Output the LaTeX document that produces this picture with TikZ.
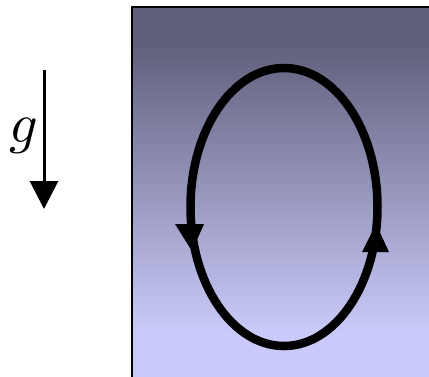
\documentclass[tikz,border=0pt]{standalone}
\usetikzlibrary{arrows.meta}
\definecolor{topc}{RGB}{96,96,124}
\definecolor{botc}{RGB}{202,202,250}
\pgfdeclareverticalshading{panelshade}{100bp}{color(0bp)=(botc); color(31bp)=(botc); color(70bp)=(topc); color(100bp)=(topc)}
\tikzset{
  loopline/.style={line width=8.5pt, draw=black},
  headfill/.style={fill=black},
  gravity/.style={line width=3pt, -{Triangle[width=28pt,length=28pt]}},
}
\begin{document}
\begin{tikzpicture}[x=1pt,y=-1pt]
\useasboundingbox (0,0) rectangle (429,376);
\clip (0,0) rectangle (429,376);
% panel
\shade[shading=panelshade] (132,7) rectangle (431,376);
\draw[line width=2pt] (132,390) -- (132,7) -- (440,7);
% loop
\draw[loopline] (284,207) ellipse [x radius=93.5, y radius=139];
% arrowheads
\fill[headfill] (175,224) -- (204,224) -- (192,251) -- cycle;
\fill[headfill] (362,252) -- (389,252) -- (376,224) -- cycle;
% gravity arrow
\coordinate (gtop) at (44,70);
\coordinate (gbot) at (44,209);
\draw[gravity] (gtop) -- (gbot);
\node[anchor=base, inner sep=0pt, scale=5.6] (glabel) at (24,142) {$g$};
\end{tikzpicture}
\end{document}
